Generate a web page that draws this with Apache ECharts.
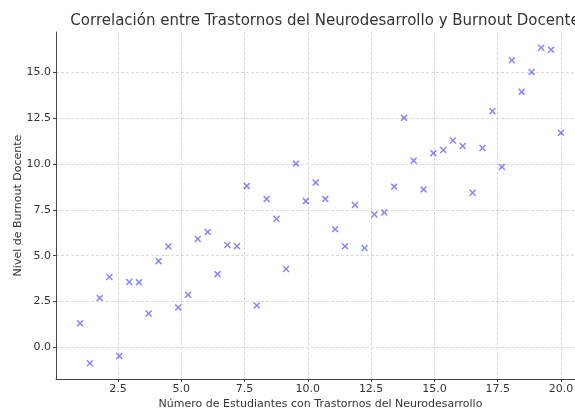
<!DOCTYPE html>
<html>
<head>
<meta charset="utf-8">
<script src="https://cdn.jsdelivr.net/npm/echarts@6/dist/echarts.min.js"></script>
<style>
  html, body { margin: 0; padding: 0; background: #fff; }
  #main { width: 575px; height: 410px; }
</style>
</head>
<body>
<div id="main"></div>
<script>
// numero de estudiantes (eje x)
const estudiantes = [1.00, 1.39, 1.78, 2.16, 2.55, 2.94, 3.33, 3.71, 4.10, 4.49,
  4.88, 5.27, 5.65, 6.04, 6.43, 6.82, 7.20, 7.59, 7.98, 8.37,
  8.76, 9.14, 9.53, 9.92, 10.31, 10.69, 11.08, 11.47, 11.86, 12.24,
  12.63, 13.02, 13.41, 13.80, 14.18, 14.57, 14.96, 15.35, 15.73, 16.12,
  16.51, 16.90, 17.29, 17.67, 18.06, 18.45, 18.84, 19.22, 19.61, 20.00];
// nivel de burnout (eje y)
const burnout = [1.31, -0.88, 2.68, 3.83, -0.49, 3.56, 3.54, 1.84, 4.70, 5.50,
  2.17, 2.86, 5.91, 6.29, 3.99, 5.58, 5.51, 8.81, 2.28, 8.10,
  7.02, 4.27, 10.03, 7.98, 8.99, 8.10, 6.44, 5.51, 7.77, 5.42,
  7.25, 7.36, 8.77, 12.53, 10.19, 8.62, 10.60, 10.77, 11.29, 10.99,
  8.44, 10.88, 12.89, 9.84, 15.68, 13.95, 15.03, 16.36, 16.25, 11.71];

const xMin = 0.05, xMax = 20.95;
const yMin = -1.74, yMax = 17.22;

const puntos = estudiantes.map((x, i) => [x, burnout[i]]);

// marcador "x"
const crossPath = 'path://M1.5,0 L5,3.5 L8.5,0 L10,1.5 L6.5,5 L10,8.5 L8.5,10 L5,6.5 L1.5,10 L0,8.5 L3.5,5 L0,1.5 Z';

const font = 'DejaVu Sans';

const axisCommon = {
  type: 'value',
  minInterval: 2.5,
  maxInterval: 2.5,
  nameLocation: 'middle',
  nameMoveOverlap: false,
  nameTextStyle: { fontFamily: font, fontSize: 11, color: '#333' },
  axisLine: { show: true, onZero: false, lineStyle: { color: '#444', width: 1 } },
  axisTick: { show: true, length: 3, lineStyle: { color: '#444' } },
  axisLabel: {
    fontFamily: font, fontSize: 11, color: '#333', margin: 5,
    showMinLabel: false, showMaxLabel: false,
    formatter: v => v.toFixed(1)
  },
  splitLine: {
    show: true, showMinLine: false, showMaxLine: false,
    lineStyle: { color: '#d9d9d9', type: [3, 2], width: 1 }
  }
};

const chart = echarts.init(document.getElementById('main'), null, { renderer: 'canvas' });
chart.setOption({
  animation: false,
  backgroundColor: '#ffffff',
  title: {
    text: 'Correlación entre Trastornos del Neurodesarrollo y Burnout Docente',
    left: 320,
    top: 9,
    textAlign: 'center',
    textStyle: { fontFamily: font, fontSize: 15, fontWeight: 'normal', color: '#333' }
  },
  grid: { left: 56, top: 32, width: 529, height: 347, containLabel: false, outerBoundsMode: 'none' },
  xAxis: Object.assign({}, axisCommon, {
    min: xMin, max: xMax,
    name: 'Número de Estudiantes con Trastornos del Neurodesarrollo',
    nameGap: 20
  }),
  yAxis: Object.assign({}, axisCommon, {
    min: yMin, max: yMax,
    name: 'Nivel de Burnout Docente',
    nameGap: 32
  }),
  series: [{
    type: 'scatter',
    data: puntos,
    symbol: crossPath,
    symbolSize: 7,
    itemStyle: { color: 'rgba(0,0,255,0.6)' }
  }]
});
</script>
</body>
</html>
